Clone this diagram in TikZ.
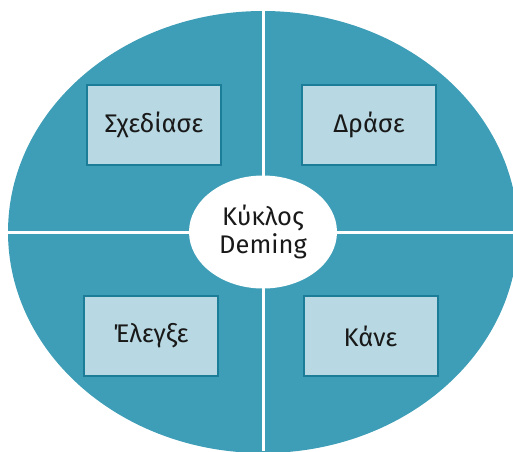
\documentclass[tikz,border=0pt]{standalone}
\usepackage{fontspec}
\setmainfont{Fira Sans}
\usetikzlibrary{shapes.geometric}
\definecolor{demingteal}{HTML}{3E9EB7}
\definecolor{boxfill}{HTML}{B8D9E3}
\definecolor{boxline}{HTML}{1B7D98}
\begin{document}
\begin{tikzpicture}[x=1pt,y=-1pt,font=\fontsize{25.5}{31}\selectfont]
\tikzset{
  stage/.style={draw=boxline, fill=boxfill, line width=2pt, minimum width=134pt, minimum height=80pt, inner sep=0pt, text=black!90},
  centre/.style={ellipse, fill=white, minimum width=148pt, minimum height=113pt, inner sep=0pt, align=center, text=black!90}
}
\useasboundingbox (0,0) rectangle (513,451);

\begin{scope}
\clip (0,0) rectangle (513,451);
\coordinate (o) at (263,232);
\fill[demingteal] (o) ellipse [x radius=255, y radius=221];
\draw[white, line width=3pt] (263,0) -- (263,451);
\draw[white, line width=3pt] (0,232) -- (513,232);
\end{scope}

\node[centre] (deming) at (o) {Κύκλος\\[-3pt]Deming};

\node[stage] (plan) at (154,125) {Σχεδίασε};
\node[stage] (act) at (369,125) {Δράσε};
\node[stage] (check) at (151,336) {Έλεγξε};
\node[stage] (do) at (370.5,336) {Κάνε};

\end{tikzpicture}
\end{document}
